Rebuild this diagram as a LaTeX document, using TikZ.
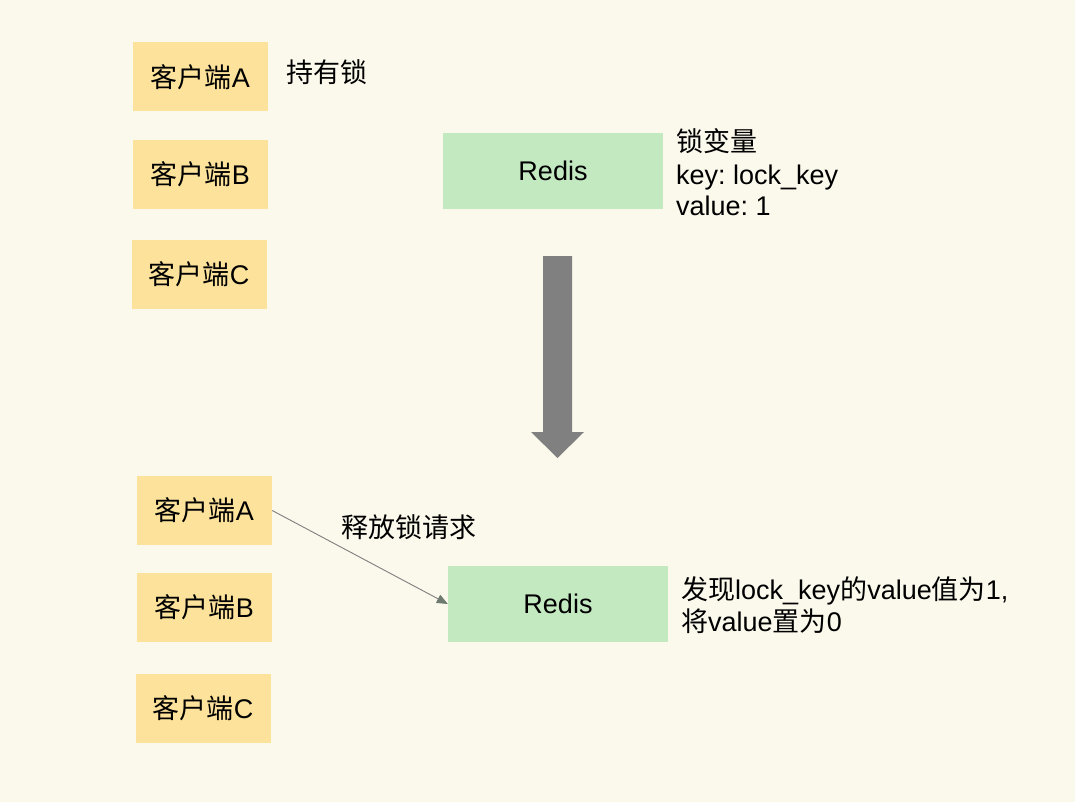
\documentclass[tikz,border=0pt]{standalone}
\usepackage{fontspec}
\setmainfont{Liberation Sans}
\newfontfamily\cjk{Noto Sans CJK SC}
\usetikzlibrary{arrows.meta}
\frenchspacing
\definecolor{bg}{HTML}{FBF8EC}
\definecolor{cli}{HTML}{FCE29B}
\definecolor{red}{HTML}{C3E9C1}
\definecolor{big}{HTML}{808080}
\definecolor{conn}{HTML}{7E7E7E}
\definecolor{tip}{HTML}{6E7A6E}
\tikzset{
  client/.style={fill=cli, minimum width=135pt, minimum height=69pt, inner sep=0pt, font=\fontsize{27}{32}\selectfont},
  redis/.style={fill=red, minimum width=220pt, minimum height=76pt, inner sep=0pt, font=\fontsize{27}{32}\selectfont},
  note/.style={anchor=base west, align=left, inner sep=0pt, font=\fontsize{27}{32}\selectfont\frenchspacing},
}
\begin{document}
\begin{tikzpicture}[x=1pt,y=-1pt]
\useasboundingbox[fill=bg] (0,0) rectangle (1075,802);
% top
\node[client] (a1) at (200.5,77) {{\cjk 客户端}A};
\node[client] (b1) at (200.5,174.5) {{\cjk 客户端}B};
\node[client] (c1) at (199,274.5) {{\cjk 客户端}C};
\node[note] (hold) at (286,83) {\cjk 持有锁};
\node[redis] (r1) at (553,171) {Redis};
\node[note] (var) at (676,216) {{\cjk 锁变量}\\key: lock\_key\\value: 1};
% big arrow
\fill[big] (543,256) -- (572,256) -- (572,432) -- (584,432) -- (557.5,458) -- (531,432) -- (543,432) -- cycle;
% bottom
\node[client] (a2) at (204.5,510.5) {{\cjk 客户端}A};
\node[client] (b2) at (204.5,607.5) {{\cjk 客户端}B};
\node[client] (c2) at (203,708) {{\cjk 客户端}C};
\node[redis] (r2) at (558,604) {Redis};
\node[note] (req) at (341,537) {\cjk 释放锁请求};
\node[note] (found) at (681,631) {{\cjk 发现}lock\_key{\cjk 的}value{\cjk 值为}1,\\{\cjk 将}value{\cjk 置为}0};
\draw[conn, line width=0.9pt, -{Triangle[length=11pt,width=9pt,fill=tip,color=tip]}] (a2.east) -- (r2.west);
\end{tikzpicture}
\end{document}
